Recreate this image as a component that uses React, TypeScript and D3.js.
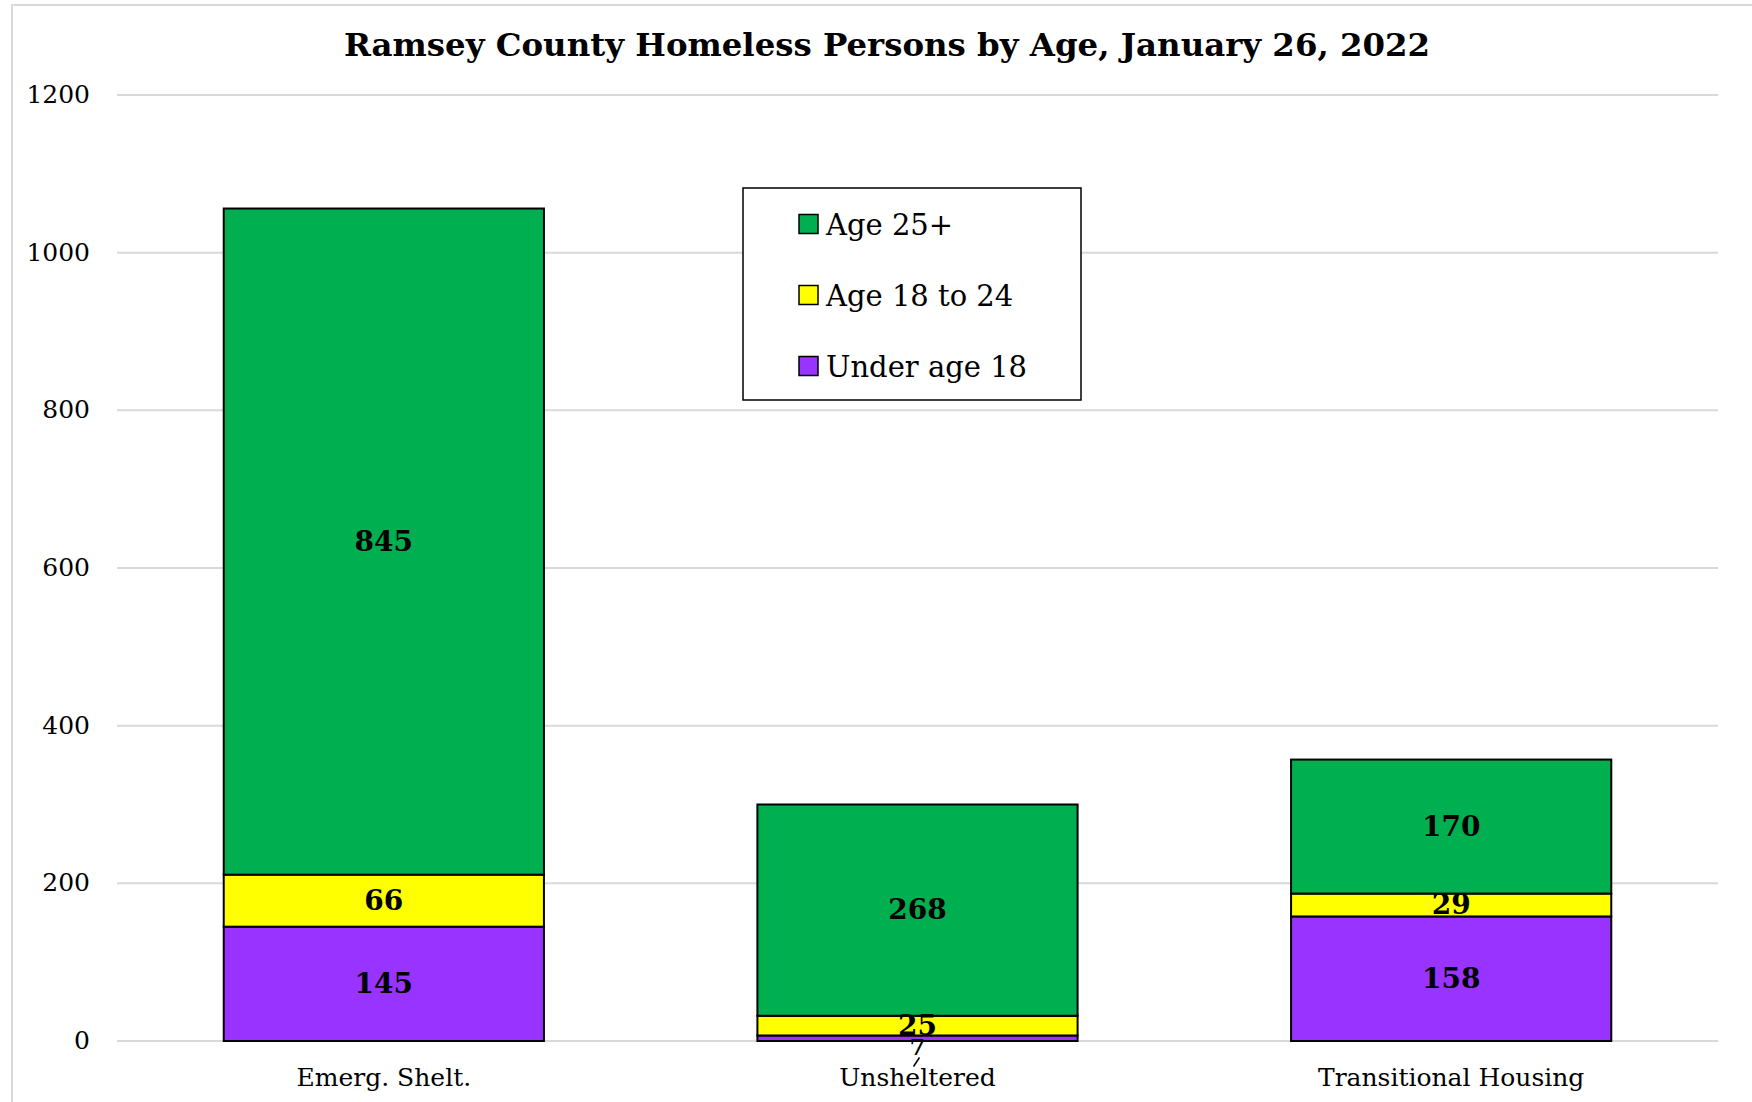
import React, { useEffect, useRef } from 'react';
import * as d3 from 'd3';

const categories = ['Emerg. Shelt.', 'Unsheltered', 'Transitional Housing'];
const under18 = [145, 7, 158];
const age18to24 = [66, 25, 29];
const age25plus = [845, 268, 170];
const seriesNames = ['Under age 18', 'Age 18 to 24', 'Age 25+'];
const seriesColors = ['#9933FF', '#FFFF00', '#00B050'];
const yTicks = [0, 200, 400, 600, 800, 1000, 1200];
const title = 'Ramsey County Homeless Persons by Age, January 26, 2022';

const FONT = '"DejaVu Serif", Georgia, serif';

function App() {
  const chart = useRef<any>(null);
  const dims = { width: 1752, height: 1102 };
  const m = { left: 117, right: 1718, top: 95, bottom: 1041 };

  useEffect(() => {
    const svg = d3.select(chart.current);
    svg.selectAll('*').remove();

    // outer chart frame
    svg
      .append('rect')
      .attr('x', 12)
      .attr('y', 5)
      .attr('width', dims.width)
      .attr('height', dims.height)
      .attr('fill', '#fff')
      .attr('stroke', '#d9d9d9')
      .attr('stroke-width', 2);

    const rows = categories.map((c, i) => ({
      cat: c,
      'Under age 18': under18[i],
      'Age 18 to 24': age18to24[i],
      'Age 25+': age25plus[i],
    }));

    const x = d3.scaleBand().domain(categories).range([m.left, m.right]).paddingInner(0.4).paddingOuter(0.2);
    const y = d3.scaleLinear().domain([0, 1200]).range([m.bottom, m.top]);

    // gridlines + y labels
    const grid = svg.append('g');
    grid
      .selectAll('line')
      .data(yTicks)
      .join('line')
      .attr('x1', m.left)
      .attr('x2', m.right)
      .attr('y1', (d) => y(d))
      .attr('y2', (d) => y(d))
      .attr('stroke', '#d9d9d9')
      .attr('stroke-width', 2);
    grid
      .selectAll('text')
      .data(yTicks)
      .join('text')
      .attr('x', 90)
      .attr('y', (d) => y(d) + 8)
      .attr('text-anchor', 'end')
      .attr('font-family', FONT)
      .attr('font-size', 25)
      .attr('fill', '#000')
      .text((d) => d);

    const stack = d3.stack<any>().keys(seriesNames);
    const layers = stack(rows as any);

    const g = svg.append('g');
    layers.forEach((layer, li) => {
      g.append('g')
        .selectAll('rect')
        .data(layer)
        .join('rect')
        .attr('x', (d: any) => x(d.data.cat)!)
        .attr('width', x.bandwidth())
        .attr('y', (d: any) => y(d[1]))
        .attr('height', (d: any) => y(d[0]) - y(d[1]))
        .attr('fill', seriesColors[li])
        .attr('stroke', '#000')
        .attr('stroke-width', 2);
    });

    // data labels
    layers.forEach((layer) => {
      layer.forEach((d: any) => {
        const v = d[1] - d[0];
        const cx = x(d.data.cat)! + x.bandwidth() / 2;
        let base = y((d[0] + d[1]) / 2) + 9;
        if (v < 15) {
          // tiny segment: label pushed below with a leader line
          base = y(d[1]) + 20;
          svg
            .append('line')
            .attr('x1', cx + 2)
            .attr('y1', base + 2)
            .attr('x2', cx - 4)
            .attr('y2', base + 11)
            .attr('stroke', '#000')
            .attr('stroke-width', 1.5);
        }
        svg
          .append('text')
          .attr('x', cx)
          .attr('y', base)
          .attr('text-anchor', 'middle')
          .attr('font-family', FONT)
          .attr('font-weight', 'bold')
          .attr('font-size', v < 15 ? 22 : 28)
          .attr('fill', '#000')
          .text(v);
      });
    });

    // category labels
    svg
      .append('g')
      .selectAll('text')
      .data(categories)
      .join('text')
      .attr('x', (d) => x(d)! + x.bandwidth() / 2)
      .attr('y', 1086)
      .attr('text-anchor', 'middle')
      .attr('font-family', FONT)
      .attr('font-size', 25)
      .attr('fill', '#000')
      .text((d) => d);

    // title
    svg
      .append('text')
      .attr('x', 887)
      .attr('y', 56)
      .attr('text-anchor', 'middle')
      .attr('font-family', FONT)
      .attr('font-weight', 'bold')
      .attr('font-size', 32.4)
      .attr('fill', '#000')
      .text(title);

    // legend
    const lg = svg.append('g');
    lg.append('rect')
      .attr('x', 743)
      .attr('y', 188)
      .attr('width', 338)
      .attr('height', 212)
      .attr('fill', '#fff')
      .attr('stroke', '#000')
      .attr('stroke-width', 1.5);
    const legendItems = [2, 1, 0];
    legendItems.forEach((si, i) => {
      const cy = 224 + i * 71;
      lg.append('rect')
        .attr('x', 799)
        .attr('y', cy - 9.5)
        .attr('width', 19)
        .attr('height', 19)
        .attr('fill', seriesColors[si])
        .attr('stroke', '#000')
        .attr('stroke-width', 1.5);
      lg.append('text')
        .attr('x', 826)
        .attr('y', cy + 11)
        .attr('font-family', FONT)
        .attr('font-size', 29)
        .attr('fill', '#000')
        .text(seriesNames[si]);
    });
  });

  return (
    <div id="chartArea">
      <svg
        ref={chart}
        width={dims.width}
        height={dims.height}
        style={{ position: 'absolute', left: 0, top: 0 }}
      ></svg>
    </div>
  );
}

export default App;
